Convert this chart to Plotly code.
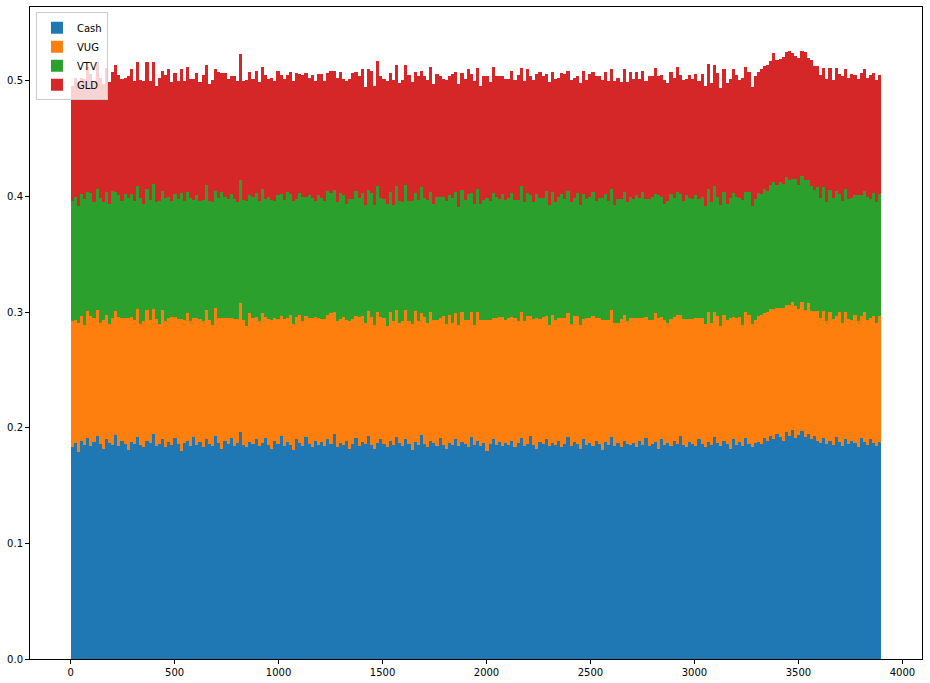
import plotly.graph_objects as go

# Stacked weights per 15-day bin (day index = 15 * bin)
cash = [
.183,.187,.179,.189,.185,.191,.184,.188,.193,.186,.182,.190,.187,.185,.194,.184,.189,.186,.181,.188,
.186,.192,.185,.183,.189,.187,.195,.184,.186,.190,.183,.188,.185,.191,.186,.180,.187,.189,.184,.192,
.185,.188,.183,.190,.186,.184,.193,.187,.182,.189,.186,.191,.184,.187,.196,.185,.183,.188,.186,.190,
.184,.187,.191,.185,.182,.189,.186,.193,.184,.188,.185,.181,.190,.187,.184,.192,.186,.183,.189,.185,
.188,.184,.190,.186,.195,.183,.187,.185,.189,.182,.186,.191,.184,.188,.186,.193,.185,.182,.187,.190,
.186,.183,.189,.185,.192,.187,.184,.190,.186,.181,.188,.185,.194,.186,.183,.189,.187,.184,.191,.185,
.182,.187,.185,.190,.184,.188,.186,.183,.192,.185,.189,.184,.187,.180,.186,.190,.185,.188,.184,.187,
.185,.189,.183,.187,.191,.184,.186,.193,.185,.182,.188,.186,.190,.184,.187,.185,.189,.183,.186,.192,
.184,.188,.186,.182,.190,.185,.187,.184,.189,.186,.181,.188,.185,.192,.184,.187,.183,.189,.186,.185,
.187,.183,.189,.185,.191,.184,.186,.188,.182,.190,.185,.187,.184,.189,.186,.193,.185,.183,.188,.186,
.184,.190,.186,.183,.188,.185,.192,.187,.184,.189,.186,.182,.190,.185,.188,.184,.191,.186,.183,.187,
.188,.186,.191,.189,.193,.190,.195,.192,.189,.196,.193,.198,.191,.194,.197,.192,.195,.190,.193,.189,
.187,.191,.186,.189,.185,.192,.188,.184,.190,.186,.189,.187,.183,.191,.188,.185,.190,.187,.184,.188]

vug = [
.109,.106,.112,.108,.104,.110,.113,.107,.109,.105,.111,.108,.103,.110,.107,.112,.106,.109,.114,.108,
.107,.111,.105,.109,.113,.106,.108,.110,.104,.112,.109,.107,.111,.105,.108,.114,.106,.110,.108,.103,
.110,.106,.109,.112,.107,.105,.111,.108,.113,.106,.109,.104,.110,.107,.112,.108,.105,.111,.109,.106,
.108,.112,.105,.109,.111,.106,.108,.104,.110,.107,.113,.109,.106,.111,.108,.105,.109,.112,.107,.110,
.106,.110,.108,.113,.105,.109,.107,.111,.104,.110,.108,.106,.112,.109,.105,.108,.111,.107,.113,.106,
.109,.105,.111,.107,.110,.104,.108,.112,.106,.109,.113,.107,.105,.110,.108,.111,.106,.109,.104,.112,
.108,.111,.106,.109,.105,.112,.107,.110,.108,.104,.111,.109,.106,.113,.107,.105,.110,.108,.112,.106,
.110,.107,.112,.105,.109,.108,.111,.104,.109,.113,.106,.110,.107,.105,.111,.108,.106,.112,.109,.107,
.106,.109,.111,.107,.104,.110,.108,.113,.106,.109,.112,.105,.108,.110,.107,.104,.111,.109,.106,.110,
.108,.112,.106,.110,.105,.109,.107,.111,.113,.106,.108,.104,.110,.107,.112,.105,.109,.111,.106,.108,
.111,.105,.109,.107,.112,.106,.108,.110,.104,.109,.107,.113,.106,.110,.108,.105,.109,.112,.107,.106,
.109,.112,.108,.111,.110,.113,.109,.112,.115,.110,.113,.111,.114,.109,.112,.110,.113,.111,.108,.112,
.108,.110,.106,.111,.109,.105,.112,.107,.110,.108,.104,.111,.109,.106,.112,.108,.105,.110,.107,.109]

vtv = [
.104,.107,.101,.105,.109,.103,.106,.100,.105,.108,.102,.106,.104,.110,.103,.105,.101,.107,.104,.106,
.103,.106,.109,.102,.105,.104,.108,.101,.106,.103,.107,.105,.100,.106,.104,.109,.103,.105,.107,.102,
.106,.102,.105,.108,.103,.106,.101,.104,.109,.105,.103,.107,.104,.101,.106,.104,.108,.102,.105,.107,
.104,.108,.102,.106,.104,.101,.107,.105,.103,.109,.104,.106,.102,.105,.108,.103,.106,.104,.100,.106,
.105,.102,.107,.104,.106,.103,.109,.105,.101,.106,.104,.108,.103,.106,.102,.105,.107,.104,.109,.103,
.103,.106,.104,.101,.107,.105,.103,.108,.104,.106,.102,.105,.109,.103,.106,.104,.101,.107,.105,.103,
.106,.103,.108,.105,.102,.106,.104,.109,.103,.105,.107,.101,.104,.106,.103,.108,.105,.102,.106,.104,
.104,.107,.102,.105,.109,.103,.106,.104,.101,.107,.105,.103,.108,.104,.106,.102,.105,.107,.103,.106,
.105,.102,.106,.104,.108,.103,.105,.107,.101,.104,.106,.109,.103,.105,.102,.107,.104,.106,.103,.105,
.103,.106,.104,.109,.102,.105,.107,.103,.106,.104,.101,.105,.108,.103,.106,.104,.102,.107,.105,.104,
.106,.103,.105,.102,.107,.104,.109,.103,.105,.106,.101,.104,.107,.105,.103,.108,.104,.106,.102,.105,
.106,.104,.108,.105,.107,.110,.106,.109,.107,.111,.108,.106,.110,.107,.109,.112,.106,.108,.105,.107,
.104,.107,.103,.106,.105,.108,.102,.105,.107,.104,.106,.103,.109,.104,.105,.107,.103,.106,.104,.105]

gld = [
.100,.103,.106,.101,.104,.108,.103,.105,.109,.104,.102,.107,.105,.103,.110,.104,.106,.101,.105,.108,
.104,.107,.102,.106,.109,.103,.105,.101,.107,.104,.106,.110,.103,.105,.102,.107,.104,.108,.103,.105,
.106,.103,.108,.104,.101,.106,.105,.109,.103,.107,.104,.102,.106,.105,.109,.103,.105,.107,.102,.106,
.103,.105,.107,.102,.106,.104,.108,.103,.105,.101,.106,.104,.109,.103,.105,.107,.102,.106,.104,.105,
.107,.104,.102,.106,.103,.108,.105,.101,.106,.104,.109,.103,.105,.107,.102,.104,.106,.103,.108,.105,
.104,.106,.103,.108,.105,.102,.106,.104,.109,.103,.105,.107,.101,.105,.104,.108,.103,.106,.104,.102,
.105,.103,.107,.104,.106,.101,.105,.108,.103,.106,.104,.102,.107,.105,.103,.109,.104,.106,.102,.105,
.103,.106,.104,.108,.102,.105,.107,.103,.106,.104,.109,.105,.101,.106,.104,.107,.103,.105,.108,.104,
.106,.104,.101,.105,.107,.103,.106,.104,.108,.105,.102,.106,.104,.103,.107,.105,.101,.106,.104,.108,
.104,.107,.103,.105,.102,.106,.104,.109,.103,.105,.107,.102,.106,.104,.108,.103,.105,.101,.106,.104,
.105,.102,.106,.104,.108,.103,.105,.107,.101,.106,.104,.103,.107,.105,.102,.106,.108,.104,.103,.106,
.105,.108,.106,.109,.107,.111,.108,.106,.110,.108,.112,.109,.107,.110,.108,.111,.106,.109,.107,.105,
.106,.103,.107,.105,.102,.106,.104,.108,.103,.105,.107,.104,.101,.106,.105,.103,.107,.104,.106,.103]

series_names = ["Cash", "VUG", "VTV", "GLD"]
series_values = [cash, vug, vtv, gld]
colors = ["#1f77b4", "#ff7f0e", "#2ca02c", "#d62728"]
bin_days = 15
days = [bin_days * i for i in range(len(cash))]

fig = go.Figure()
for name, vals, col in zip(series_names, series_values, colors):
    fig.add_trace(go.Bar(
        x=days, y=vals, name=name, width=bin_days, offset=-0.4,
        marker=dict(color=col, line=dict(width=0)),
    ))

axis_common = dict(
    showline=True, linecolor="black", linewidth=1, mirror=True, automargin=False,
    ticks="outside", ticklen=4, tickcolor="black", showgrid=False, zeroline=False,
    tickfont=dict(family="DejaVu Sans", size=10, color="black"),
)
fig.update_layout(
    width=930, height=683,
    margin=dict(l=30, r=8, t=7, b=24),
    barmode="stack", bargap=0,
    plot_bgcolor="white", paper_bgcolor="white",
    xaxis=dict(range=[-195.4, 4094.4], tickvals=[0, 500, 1000, 1500, 2000, 2500, 3000, 3500, 4000], **axis_common),
    yaxis=dict(range=[0, 0.564], tickvals=[0, 0.1, 0.2, 0.3, 0.4, 0.5], tickformat=".1f", **axis_common),
    legend=dict(x=0.0067, y=0.992, xanchor="left", yanchor="top", traceorder="normal",
                bgcolor="rgba(255,255,255,0.8)", bordercolor="#cccccc", borderwidth=1,
                font=dict(family="DejaVu Sans", size=10, color="black"),
                itemwidth=30, tracegroupgap=0),
    showlegend=True,
)
fig.write_html("out.html", config={"displayModeBar": False},
               post_script="document.body.style.margin='0';document.body.style.overflow='hidden';")
